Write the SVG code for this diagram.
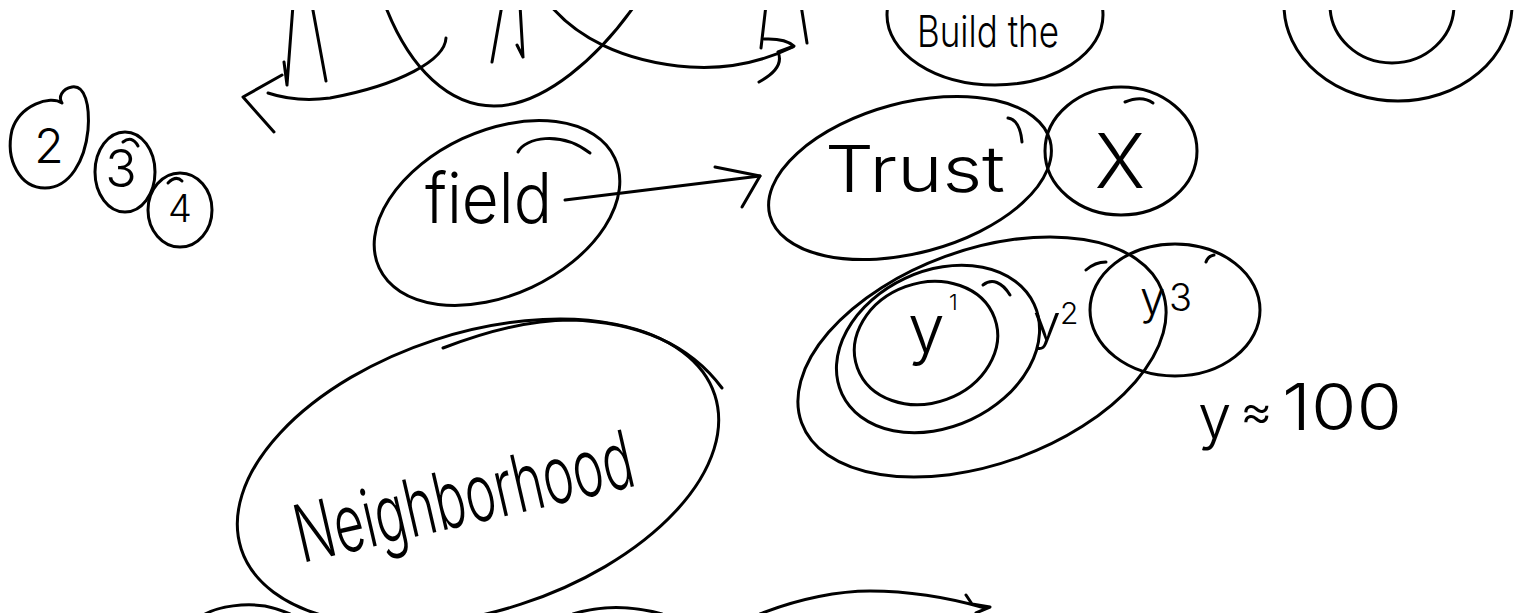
<svg xmlns="http://www.w3.org/2000/svg" width="1518" height="613" viewBox="0 0 1518 613">
<defs>
<style>
.s{fill:none;stroke:#000;stroke-width:3;stroke-linecap:round;stroke-linejoin:round}
.t{fill:#000;font-family:Inter,"Liberation Sans","DejaVu Sans",sans-serif;font-weight:300}
</style>
<clipPath id="clip"><rect x="0" y="10" width="1518" height="603"/></clipPath>
</defs>
<rect width="1518" height="613" fill="#fff"/>
<g clip-path="url(#clip)">
<g id="sketch-top">
<path class="s" d="M293,5 L287,85 M284,62 L287,85"/>
<path class="s" d="M312,5 L326,81"/>
<path class="s" d="M385,5 C410,70 450,106 494,106 C545,106 600,55 635,5"/>
<path class="s" d="M502,5 L492,62"/>
<path class="s" d="M520,5 L523,57 M517,45 L523,57"/>
<path class="s" d="M766,5 L761,48"/>
<path class="s" d="M801,5 L807,43"/>
</g>
<g id="node-build">
<ellipse class="s" cx="995" cy="15" rx="108" ry="70"/>
<text class="t" x="917" y="47" font-size="44" textLength="142" lengthAdjust="spacingAndGlyphs">Build the</text>
</g>
<g id="node-rings">
<ellipse class="s" cx="1398" cy="5" rx="114" ry="96"/>
<ellipse class="s" cx="1392" cy="5" rx="62" ry="58"/>
</g>
<g id="node-2">
<path class="s" d="M62,103 C50,95 20,105 12,130 C5,160 20,188 45,188 C70,188 85,160 88,130 C90,105 85,85 72,87 C62,89 58,97 62,103"/>
<text class="t" x="49" y="163" font-size="48" text-anchor="middle">2</text>
</g>
<g id="node-3">
<ellipse class="s" cx="125" cy="172" rx="30" ry="40"/>
<path class="s" d="M123,142 Q132,135 138,146"/>
<text class="t" x="121" y="187" font-size="52" text-anchor="middle">3</text>
</g>
<g id="node-4">
<ellipse class="s" cx="180" cy="210" rx="32" ry="37"/>
<path class="s" d="M168,183 Q176,175 182,181"/>
<text class="t" x="180" y="222" font-size="38" text-anchor="middle">4</text>
</g>
<g id="node-field">
<ellipse class="s" cx="497" cy="213" rx="130" ry="82" transform="rotate(-25 497 213)"/>
<path class="s" d="M518,152 C525,138 560,130 590,153"/>
<text class="t" x="425" y="223" font-size="70" textLength="127" lengthAdjust="spacingAndGlyphs">field</text>
</g>
<g id="node-trust">
<ellipse class="s" cx="910" cy="178" rx="145" ry="75" transform="rotate(-15 910 178)"/>
<path class="s" d="M1008,118 Q1020,120 1022,142"/>
<text class="t" x="825" y="192" font-size="64" textLength="180" lengthAdjust="spacingAndGlyphs">Trust</text>
</g>
<g id="node-x">
<ellipse class="s" cx="1121" cy="151" rx="76" ry="64"/>
<path class="s" d="M1125,102 Q1142,95 1153,103"/>
<text class="t" x="1120" y="188" font-size="76" text-anchor="middle">X</text>
</g>
<g id="node-ygroup">
<ellipse class="s" cx="982" cy="357" rx="192" ry="107" transform="rotate(-20 982 357)"/>
</g>
<g id="node-y2">
<ellipse class="s" cx="938" cy="349" rx="106" ry="78" transform="rotate(-25 938 349)"/>
<path class="s" d="M983,285 C992,278 1002,282 1010,295"/>
<text class="t" x="1033" y="340" font-size="50">y</text>
<text class="t" x="1060" y="324" font-size="30">2</text>
</g>
<g id="node-y1">
<ellipse class="s" cx="926" cy="343" rx="73" ry="60" transform="rotate(-20 926 343)"/>
<text class="t" x="908" y="352" font-size="66">y</text>
<text class="t" x="949" y="310" font-size="22">1</text>
</g>
<g id="node-y3">
<ellipse class="s" cx="1175" cy="310" rx="85" ry="66"/>
<path class="s" d="M1086,270 Q1095,262 1106,262 M1206,262 Q1208,256 1214,255"/>
<text class="t" x="1140" y="314" font-size="45">y</text>
<text class="t" x="1169" y="311" font-size="38">3</text>
</g>
<g id="label-y100">
<text class="t" x="1198" y="438" font-size="60">y</text>
<text class="t" x="1240" y="428" font-size="50">≈</text>
<text class="t" x="1282" y="430" font-size="64" textLength="120" lengthAdjust="spacingAndGlyphs">100</text>
</g>
<g id="node-neighborhood">
<ellipse class="s" cx="478" cy="472" rx="249" ry="139" transform="rotate(-18 478 472)"/>
<path class="s" d="M443,348 C490,330 530,320 570,320 C640,322 690,345 722,388"/>
<text class="t" x="302" y="563" font-size="80" textLength="345" lengthAdjust="spacingAndGlyphs" transform="rotate(-13 302 563)">Neighborhood</text>
</g>
<g id="sketch-bottom">
<path class="s" d="M205,614 C220,606 245,603 265,606 C275,608 283,611 290,614"/>
<path class="s" d="M573,614 Q615,601 662,614"/>
</g>
<g id="connectors">
<path class="s" d="M446,38 C445,60 400,85 330,98 C300,102 280,97 268,93"/>
<path class="s" d="M282,75 L243,97 L274,132"/>
<path class="s" d="M550,5 C575,35 620,62 690,67 C735,70 770,58 793,47"/>
<path class="s" d="M764,39 Q785,38 794,46 L778,52 Q785,68 759,82"/>
<path class="s" d="M565,200 L760,176"/>
<path class="s" d="M715,167 L760,176 L742,207"/>
<path class="s" d="M760,614 C800,598 840,591 870,591 C910,591 950,598 985,608"/>
<path class="s" d="M966,595 L972,604 L990,607 L976,613"/>
</g>
</g>
</svg>
